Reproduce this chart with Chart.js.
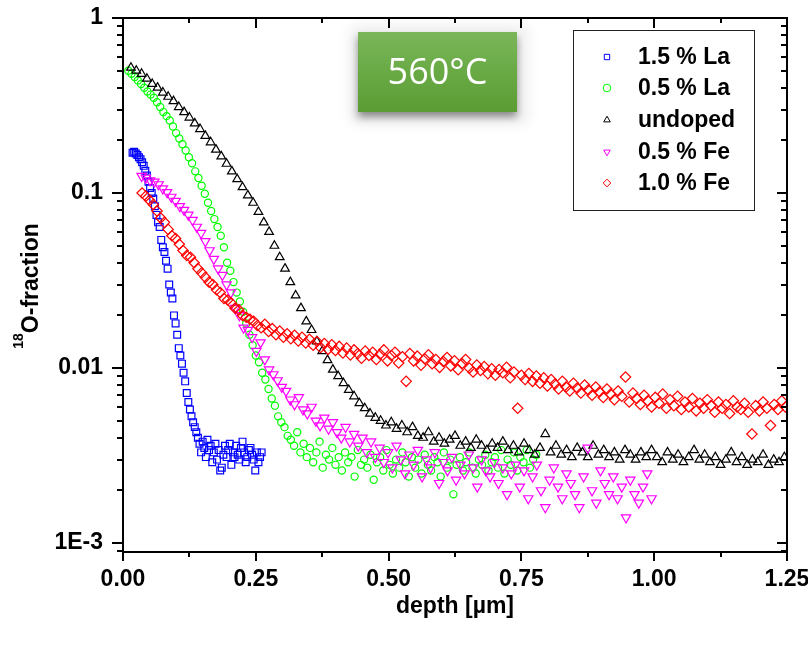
<!DOCTYPE html>
<html><head><meta charset="utf-8">
<script src="https://cdn.jsdelivr.net/npm/chart.js@4.4.1/dist/chart.umd.min.js"></script>
<style>html,body{margin:0;padding:0;background:#fff;}canvas{display:block;}</style>
</head><body>
<canvas id="c" width="808" height="645" style="width:808px;height:645px"></canvas>
<script>
// ---------- data ----------
const seriesNames = ['1.5 % La', '0.5 % La', 'undoped', '0.5 % Fe', '1.0 % Fe'];

const la15Depth = [0.018,0.021,0.024,0.027,0.030,0.033,0.036,0.039,0.042,0.045,0.048,0.051,0.054,0.057,0.060,0.063,0.066,0.069,0.072,0.075,0.078,0.081,0.084,0.087,0.090,0.093,0.096,0.099,0.102,0.105,0.108,0.111,0.114,0.117,0.120,0.123,0.126,0.129,0.132,0.135,0.138,0.141,0.144,0.147,0.150,0.153,0.156,0.159,0.162,0.165,0.168,0.171,0.174,0.177,0.180,0.183,0.186,0.189,0.192,0.195,0.198,0.201,0.204,0.207,0.210,0.213,0.216,0.219,0.222,0.225,0.228,0.231,0.234,0.237,0.240,0.243,0.246,0.249,0.252,0.255,0.258,0.261];
const la15Frac = [0.170,0.172,0.168,0.165,0.160,0.156,0.150,0.143,0.134,0.126,0.116,0.107,0.100,0.093,0.084,0.075,0.068,0.064,0.054,0.049,0.046,0.041,0.037,0.030,0.027,0.025,0.020,0.018,0.0155,0.013,0.0118,0.0106,0.0094,0.0084,0.0072,0.0064,0.0058,0.0053,0.0049,0.0046,0.0043,0.0040,0.0037,0.0033,0.0038,0.0035,0.0031,0.0039,0.0034,0.0036,0.0029,0.0033,0.0037,0.0030,0.0034,0.0026,0.0027,0.0032,0.0036,0.0031,0.0034,0.0037,0.0028,0.0033,0.0031,0.0036,0.0032,0.0030,0.0035,0.0038,0.0033,0.0029,0.0031,0.0034,0.0035,0.0032,0.0030,0.0026,0.0033,0.0029,0.0031,0.0033];

const la05Depth = [0.010,0.016,0.022,0.028,0.034,0.040,0.046,0.052,0.058,0.064,0.070,0.076,0.082,0.088,0.094,0.100,0.106,0.112,0.118,0.124,0.130,0.136,0.142,0.148,0.154,0.160,0.166,0.172,0.178,0.184,0.190,0.196,0.202,0.208,0.214,0.220,0.226,0.232,0.238,0.244,0.250,0.256,0.262,0.268,0.274,0.280,0.286,0.292,0.298,0.304,0.310,0.316,0.322,0.328,0.334,0.340,0.346,0.352,0.358,0.364,0.370,0.376,0.382,0.388,0.394,0.400,0.406,0.412,0.418,0.424,0.430,0.436,0.442,0.448,0.454,0.460,0.466,0.472,0.478,0.484,0.490,0.496,0.502,0.508,0.514,0.520,0.526,0.532,0.538,0.544,0.550,0.556,0.562,0.568,0.574,0.580,0.586,0.592,0.598,0.604,0.610,0.616,0.622,0.628,0.634,0.640,0.646,0.652,0.658,0.664,0.670,0.676,0.682,0.688,0.694,0.700,0.706,0.712,0.718,0.724,0.730,0.736,0.742,0.748,0.754,0.760,0.766,0.772,0.778];
const la05Frac = [0.50,0.48,0.46,0.44,0.42,0.40,0.38,0.365,0.35,0.33,0.31,0.29,0.275,0.26,0.24,0.22,0.205,0.19,0.175,0.16,0.148,0.133,0.122,0.110,0.099,0.088,0.079,0.071,0.064,0.057,0.049,0.040,0.036,0.031,0.027,0.024,0.021,0.018,0.0155,0.0135,0.0118,0.0108,0.0094,0.0086,0.0076,0.0067,0.0061,0.0053,0.0049,0.0046,0.0041,0.0039,0.0036,0.0043,0.0033,0.0037,0.0031,0.0035,0.0029,0.0033,0.0038,0.0027,0.0032,0.0030,0.0035,0.0028,0.0031,0.0026,0.0033,0.0029,0.0031,0.0024,0.0034,0.0028,0.0030,0.0027,0.0032,0.0023,0.0029,0.0031,0.0026,0.0034,0.0028,0.0025,0.0030,0.0027,0.0033,0.0029,0.0024,0.0031,0.0027,0.0030,0.0025,0.0032,0.0028,0.0026,0.0031,0.0029,0.0024,0.0033,0.0027,0.0030,0.0019,0.0028,0.0031,0.0026,0.0029,0.0033,0.0027,0.0025,0.0030,0.0028,0.0032,0.0026,0.0029,0.0031,0.0027,0.0034,0.0025,0.0030,0.0028,0.0033,0.0026,0.0031,0.0029,0.0034,0.0027,0.0030,0.0032];

const undopedDepth = [0.015,0.025,0.035,0.045,0.055,0.065,0.075,0.085,0.095,0.105,0.115,0.125,0.135,0.145,0.155,0.165,0.175,0.185,0.195,0.205,0.215,0.225,0.235,0.245,0.255,0.265,0.275,0.285,0.295,0.305,0.315,0.325,0.335,0.345,0.355,0.365,0.375,0.385,0.395,0.405,0.415,0.425,0.435,0.445,0.455,0.465,0.475,0.485,0.495,0.505,0.515,0.525,0.535,0.545,0.555,0.565,0.575,0.585,0.595,0.605,0.615,0.625,0.635,0.645,0.655,0.665,0.675,0.685,0.695,0.705,0.715,0.725,0.735,0.745,0.755,0.765,0.775,0.785,0.795,0.805,0.815,0.825,0.835,0.845,0.855,0.865,0.875,0.885,0.895,0.905,0.915,0.925,0.935,0.945,0.955,0.965,0.975,0.985,0.995,1.005,1.015,1.025,1.035,1.045,1.055,1.065,1.075,1.085,1.095,1.105,1.115,1.125,1.135,1.145,1.155,1.165,1.175,1.185,1.195,1.205,1.215,1.225,1.235,1.245];
const undopedFrac = [0.52,0.50,0.48,0.45,0.42,0.40,0.375,0.355,0.335,0.31,0.29,0.27,0.25,0.232,0.212,0.195,0.177,0.162,0.147,0.133,0.12,0.108,0.097,0.088,0.078,0.068,0.060,0.050,0.043,0.037,0.031,0.026,0.022,0.0185,0.0165,0.0142,0.0125,0.0111,0.0098,0.0090,0.0082,0.0075,0.0069,0.0063,0.0059,0.0055,0.0052,0.0050,0.0047,0.0049,0.0045,0.0047,0.0043,0.0046,0.0041,0.0040,0.0043,0.0038,0.0040,0.0037,0.0039,0.0041,0.0036,0.0038,0.0035,0.0039,0.0036,0.0034,0.0037,0.0035,0.0038,0.0034,0.0036,0.0033,0.0037,0.0034,0.0032,0.0035,0.0042,0.0033,0.0036,0.0032,0.0034,0.0031,0.0035,0.0033,0.0031,0.0036,0.0032,0.0034,0.0031,0.0033,0.0030,0.0034,0.0032,0.0030,0.0033,0.0031,0.0034,0.0031,0.0029,0.0033,0.0030,0.0032,0.0029,0.0031,0.0034,0.0030,0.0032,0.0029,0.0031,0.0028,0.0030,0.0033,0.0029,0.0031,0.0028,0.0030,0.0029,0.0032,0.0028,0.0030,0.0029,0.0031];

const fe05Depth = [0.035,0.043,0.051,0.059,0.067,0.075,0.083,0.091,0.099,0.107,0.115,0.123,0.131,0.139,0.147,0.155,0.163,0.171,0.179,0.187,0.195,0.203,0.211,0.219,0.227,0.235,0.243,0.251,0.259,0.267,0.275,0.283,0.291,0.299,0.307,0.315,0.323,0.331,0.339,0.347,0.355,0.363,0.371,0.379,0.387,0.395,0.403,0.411,0.419,0.427,0.435,0.443,0.451,0.459,0.467,0.475,0.483,0.491,0.499,0.507,0.515,0.523,0.531,0.539,0.547,0.555,0.563,0.571,0.579,0.587,0.595,0.603,0.611,0.619,0.627,0.635,0.643,0.651,0.659,0.667,0.675,0.683,0.691,0.699,0.707,0.715,0.723,0.731,0.739,0.747,0.755,0.763,0.771,0.779,0.787,0.795,0.803,0.811,0.819,0.827,0.835,0.843,0.851,0.859,0.867,0.875,0.883,0.891,0.899,0.907,0.915,0.923,0.931,0.939,0.947,0.955,0.963,0.971,0.979,0.987,0.995];
const fe05Frac = [0.125,0.122,0.118,0.116,0.112,0.106,0.101,0.095,0.090,0.084,0.080,0.075,0.070,0.064,0.059,0.053,0.047,0.042,0.037,0.034,0.030,0.027,0.022,0.020,0.017,0.0165,0.0150,0.0125,0.0140,0.0112,0.0098,0.0092,0.0085,0.0078,0.0074,0.0066,0.0062,0.0068,0.0058,0.0055,0.0060,0.0050,0.0047,0.0052,0.0045,0.0049,0.0043,0.0040,0.0046,0.0038,0.0042,0.0036,0.0040,0.0033,0.0038,0.0031,0.0035,0.0029,0.0033,0.0027,0.0036,0.0030,0.0025,0.0032,0.0028,0.0034,0.0024,0.0030,0.0027,0.0033,0.0022,0.0029,0.0026,0.0031,0.0023,0.0028,0.0025,0.0032,0.0027,0.0021,0.0030,0.0026,0.0024,0.0029,0.0022,0.0027,0.0019,0.0025,0.0028,0.0021,0.0026,0.0018,0.0024,0.0028,0.0020,0.0016,0.0023,0.0027,0.0021,0.0018,0.0025,0.0022,0.0019,0.0016,0.0024,0.0035,0.0020,0.0017,0.0026,0.0022,0.0019,0.0024,0.0018,0.0021,0.0014,0.0023,0.0019,0.0017,0.0021,0.0025,0.0018];

const fe10Depth = [0.036,0.043,0.050,0.057,0.064,0.071,0.078,0.085,0.092,0.099,0.106,0.113,0.120,0.127,0.134,0.141,0.148,0.155,0.162,0.169,0.176,0.183,0.190,0.197,0.204,0.211,0.218,0.225,0.232,0.239,0.246,0.253,0.260,0.267,0.274,0.281,0.288,0.295,0.302,0.309,0.316,0.323,0.330,0.337,0.344,0.351,0.358,0.365,0.372,0.379,0.386,0.393,0.400,0.407,0.414,0.421,0.428,0.435,0.442,0.449,0.456,0.463,0.470,0.477,0.484,0.491,0.498,0.505,0.512,0.519,0.526,0.533,0.540,0.547,0.554,0.561,0.568,0.575,0.582,0.589,0.596,0.603,0.610,0.617,0.624,0.631,0.638,0.645,0.652,0.659,0.666,0.673,0.680,0.687,0.694,0.701,0.708,0.715,0.722,0.729,0.736,0.743,0.750,0.757,0.764,0.771,0.778,0.785,0.792,0.799,0.806,0.813,0.820,0.827,0.834,0.841,0.848,0.855,0.862,0.869,0.876,0.883,0.890,0.897,0.904,0.911,0.918,0.925,0.932,0.939,0.946,0.953,0.960,0.967,0.974,0.981,0.988,0.995,1.002,1.009,1.016,1.023,1.030,1.037,1.044,1.051,1.058,1.065,1.072,1.079,1.086,1.093,1.100,1.107,1.114,1.121,1.128,1.135,1.142,1.149,1.156,1.163,1.170,1.177,1.184,1.191,1.198,1.205,1.212,1.219,1.226,1.233,1.240,1.247];
const fe10Frac = [0.100,0.096,0.091,0.086,0.079,0.072,0.068,0.062,0.057,0.055,0.051,0.047,0.044,0.043,0.040,0.037,0.035,0.033,0.031,0.030,0.028,0.027,0.025,0.0245,0.0235,0.022,0.0215,0.020,0.0195,0.019,0.0185,0.0175,0.0170,0.0178,0.0162,0.0168,0.0155,0.0163,0.0150,0.0157,0.0147,0.0154,0.0143,0.0150,0.0139,0.0146,0.0135,0.0142,0.0131,0.0138,0.0128,0.0136,0.0126,0.0133,0.0122,0.0130,0.0119,0.0127,0.0121,0.0114,0.0125,0.0118,0.0123,0.0112,0.0120,0.0127,0.0110,0.0118,0.0123,0.0107,0.0116,0.0084,0.0121,0.0110,0.0117,0.0104,0.0113,0.0119,0.0106,0.0112,0.0101,0.0109,0.0115,0.0103,0.0110,0.0098,0.0106,0.0112,0.0100,0.0095,0.0104,0.0097,0.0102,0.0093,0.0099,0.0091,0.0098,0.0094,0.0101,0.0088,0.0095,0.0059,0.0091,0.0086,0.0093,0.0084,0.0090,0.0082,0.0088,0.0079,0.0086,0.0081,0.0076,0.0084,0.0078,0.0074,0.0082,0.0077,0.0072,0.0080,0.0075,0.0070,0.0078,0.0073,0.0068,0.0076,0.0071,0.0066,0.0074,0.0069,0.0089,0.0064,0.0072,0.0067,0.0062,0.0070,0.0065,0.0060,0.0068,0.0063,0.0071,0.0059,0.0066,0.0061,0.0069,0.0058,0.0064,0.0060,0.0067,0.0057,0.0063,0.0059,0.0066,0.0061,0.0056,0.0064,0.0059,0.0062,0.0055,0.0065,0.0060,0.0058,0.0063,0.0056,0.0042,0.0061,0.0057,0.0064,0.0059,0.0047,0.0062,0.0058,0.0065,0.0060];

// ---------- axis ticks ----------
const xMajorTicks = [0, 0.25, 0.5, 0.75, 1.0, 1.25];
const xMinorTicks = [0.125, 0.375, 0.625, 0.875, 1.125];
const yMajorTicks = [1, 0.1, 0.01, 0.001];
const yTickLabels = ['1', '0.1', '0.01', '1E-3'];
const yMinorTicks = [0.9,0.8,0.7,0.6,0.5,0.4,0.3,0.2,0.09,0.08,0.07,0.06,0.05,0.04,0.03,0.02,0.009,0.008,0.007,0.006,0.005,0.004,0.003,0.002,0.0009];

// ---------- chart ----------
Chart.defaults.font.family = '"Liberation Sans", Arial, sans-serif';
Chart.defaults.color = '#000';
const FONT = {size: 23, weight: 'bold'};

function pts(xs, ys) {
  const n = Math.min(xs.length, ys.length), out = [];
  for (let i = 0; i < n; i++) out.push({x: xs[i], y: ys[i]});
  return out;
}
const seriesData = [pts(la15Depth, la15Frac), pts(la05Depth, la05Frac), pts(undopedDepth, undopedFrac), pts(fe05Depth, fe05Frac), pts(fe10Depth, fe10Frac)];
const looks = [
  {color: '#0000ff', style: 'rect', r: 4.8, rot: 0},
  {color: '#00ff00', style: 'circle', r: 3.6, rot: 0},
  {color: '#000000', style: 'triangle', r: 5, rot: 0},
  {color: '#ff00ff', style: 'triangle', r: 5.4, rot: 180},
  {color: '#ff0000', style: 'rectRot', r: 5.2, rot: 0}
];
const datasets = seriesNames.map((name, i) => ({
  label: name,
  data: seriesData[i],
  showLine: false,
  pointStyle: looks[i].style,
  pointRadius: looks[i].r,
  pointHoverRadius: looks[i].r,
  pointRotation: looks[i].rot,
  pointBorderColor: looks[i].color,
  pointBackgroundColor: 'rgba(0,0,0,0)',
  pointBorderWidth: 1.2,
  order: 4 - i
}));

const framePlugin = {
  id: 'frame',
  afterDatasetsDraw(chart) {
    const {ctx, chartArea: a, scales: {x, y}} = chart;
    ctx.save();
    ctx.strokeStyle = '#000';
    ctx.lineCap = 'butt';
    ctx.lineWidth = 2;
    ctx.beginPath();
    xMajorTicks.forEach(v => {
      const p = Math.round(x.getPixelForValue(v));
      ctx.moveTo(p, a.bottom); ctx.lineTo(p, a.bottom + 9);
      ctx.moveTo(p, a.top); ctx.lineTo(p, a.top + 10);
    });
    xMinorTicks.forEach(v => {
      const p = Math.round(x.getPixelForValue(v));
      ctx.moveTo(p, a.bottom); ctx.lineTo(p, a.bottom + 5);
      ctx.moveTo(p, a.top); ctx.lineTo(p, a.top + 5);
    });
    yMajorTicks.forEach(v => {
      const p = Math.round(y.getPixelForValue(v));
      ctx.moveTo(a.left, p); ctx.lineTo(a.left - 11, p);
      ctx.moveTo(a.right, p); ctx.lineTo(a.right - 10, p);
    });
    yMinorTicks.forEach(v => {
      const p = Math.round(y.getPixelForValue(v));
      ctx.moveTo(a.left, p); ctx.lineTo(a.left - 6, p);
      ctx.moveTo(a.right, p); ctx.lineTo(a.right - 6, p);
    });
    ctx.stroke();
    ctx.strokeRect(a.left, a.top, a.right - a.left, a.bottom - a.top);
    ctx.restore();
  }
};

function roundRect(ctx, x, y, w, h, r) {
  ctx.beginPath();
  ctx.moveTo(x + r, y); ctx.lineTo(x + w - r, y); ctx.quadraticCurveTo(x + w, y, x + w, y + r);
  ctx.lineTo(x + w, y + h - r); ctx.quadraticCurveTo(x + w, y + h, x + w - r, y + h);
  ctx.lineTo(x + r, y + h); ctx.quadraticCurveTo(x, y + h, x, y + h - r);
  ctx.lineTo(x, y + r); ctx.quadraticCurveTo(x, y, x + r, y);
  ctx.closePath();
}

const decorPlugin = {
  id: 'decor',
  afterDraw(chart) {
    const ctx = chart.ctx;
    // temperature badge
    ctx.save();
    ctx.filter = 'blur(5px)';
    ctx.fillStyle = 'rgba(0,0,0,0.045)';
    roundRect(ctx, 347, 23, 184, 104, 14); ctx.fill();
    ctx.filter = 'none';
    ctx.shadowColor = 'rgba(0,0,0,0.45)';
    ctx.shadowBlur = 8; ctx.shadowOffsetY = 5;
    const g = ctx.createLinearGradient(0, 32, 0, 112);
    g.addColorStop(0, '#7bb65a'); g.addColorStop(0.5, '#69aa45'); g.addColorStop(1, '#5b9c34');
    ctx.fillStyle = g;
    ctx.fillRect(358, 32, 159, 80);
    ctx.shadowColor = 'rgba(0,0,0,0)';
    ctx.fillStyle = '#ffffff';
    ctx.font = '36px "Open Sans", sans-serif';
    ctx.textAlign = 'center'; ctx.textBaseline = 'middle';
    ctx.fillText('560°C', 437.5, 74);
    ctx.restore();

    // legend
    ctx.save();
    ctx.fillStyle = '#fff';
    ctx.fillRect(573, 30, 181, 180);
    ctx.strokeStyle = '#222'; ctx.lineWidth = 1;
    ctx.strokeRect(573.5, 30.5, 181, 180);
    const rows = [57, 88, 120, 152, 183];
    seriesNames.forEach((name, i) => {
      ctx.strokeStyle = looks[i].color;
      ctx.fillStyle = 'rgba(0,0,0,0)';
      ctx.lineWidth = 1;
      Chart.helpers.drawPoint(ctx, {pointStyle: looks[i].style, radius: 3.8, rotation: looks[i].rot, borderWidth: 1}, 607, rows[i]);
      ctx.fillStyle = '#000';
      ctx.font = 'bold 23px "Liberation Sans", Arial, sans-serif';
      ctx.textAlign = 'left'; ctx.textBaseline = 'middle';
      ctx.fillText(name, 638, rows[i] + 1);
    });
    ctx.restore();

    // y-axis title with superscript
    ctx.save();
    ctx.translate(30, 286);
    ctx.rotate(-Math.PI / 2);
    ctx.fillStyle = '#000';
    ctx.textBaseline = 'alphabetic';
    const big = 'bold 23px "Liberation Sans", Arial, sans-serif';
    const small = 'bold 14px "Liberation Sans", Arial, sans-serif';
    ctx.font = big; const w1 = ctx.measureText('O-fraction').width;
    ctx.font = small; const w0 = ctx.measureText('18').width;
    const x0 = -(w0 + w1) / 2;
    ctx.fillText('18', x0, -7);
    ctx.font = big; ctx.fillText('O-fraction', x0 + w0, 7.5);
    ctx.restore();
  }
};

function zeroPad(s) { s.paddingLeft = 0; s.paddingRight = 0; s.paddingTop = 0; s.paddingBottom = 0; }

new Chart(document.getElementById('c'), {
  type: 'scatter',
  data: {datasets},
  plugins: [framePlugin, decorPlugin],
  options: {
    responsive: false,
    animation: false,
    events: [],
    layout: {padding: {top: 18, right: 21, left: 0, bottom: 0}, autoPadding: false},
    plugins: {legend: {display: false}, tooltip: {enabled: false}},
    scales: {
      x: {
        type: 'linear', min: 0, max: 1.25, bounds: 'data',
        afterBuildTicks: s => { s.ticks = xMajorTicks.map(v => ({value: v})); },
        afterFit: s => { s.height = 93; zeroPad(s); },
        grid: {display: false, drawTicks: false},
        border: {display: false},
        ticks: {autoSkip: false, maxRotation: 0, padding: 14, color: '#000', font: FONT, callback: v => Number(v).toFixed(2)},
        title: {display: true, text: 'depth [µm]', color: '#000', font: FONT, padding: {top: 0, bottom: 25}}
      },
      y: {
        type: 'logarithmic', min: 0.00089, max: 1, bounds: 'data',
        afterBuildTicks: s => { s.ticks = yMajorTicks.map(v => ({value: v, major: true})); },
        afterFit: s => { s.width = 123; zeroPad(s); },
        grid: {display: false, drawTicks: false},
        border: {display: false},
        ticks: {autoSkip: false, padding: 20, color: '#000', font: FONT, callback: (v, i) => yTickLabels[i]}
      }
    }
  }
});
</script>
</body></html>
